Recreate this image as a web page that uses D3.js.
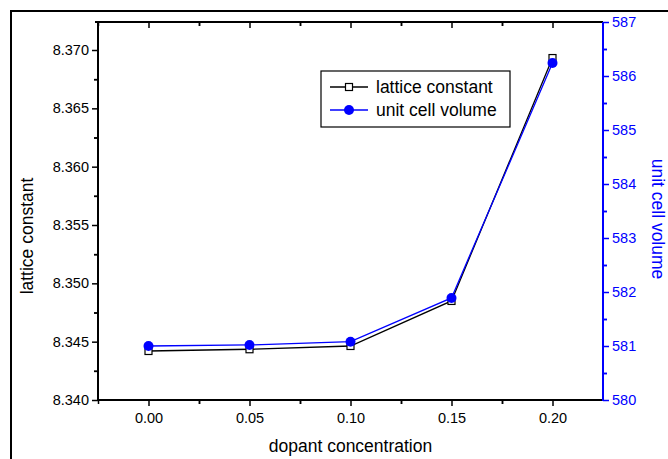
<!DOCTYPE html>
<html>
<head>
<meta charset="utf-8">
<script src="https://cdn.jsdelivr.net/npm/d3@7/dist/d3.min.js"></script>
<style>
  body { margin: 0; background: #fff; }
  svg { display: block; font-family: "Liberation Sans", Arial, sans-serif; }
</style>
</head>
<body>
<div id="chart"></div>
<script>
// data
var concentration = [0.00, 0.05, 0.10, 0.15, 0.20];
var latticeConstant = [8.3442, 8.34435, 8.34463, 8.34849, 8.36931];
var cellVolume = [581.00, 581.02, 581.08, 581.89, 586.24];
var xTicks = [0.00, 0.05, 0.10, 0.15, 0.20];
var leftTicks = [8.340, 8.345, 8.350, 8.355, 8.360, 8.365, 8.370];
var rightTicks = [580, 581, 582, 583, 584, 585, 586, 587];

var W = 668, H = 459;
var pLeft = 98, pRight = 603, pTop = 22, pBottom = 400;
var blue = "#0000ff";

var svg = d3.select("#chart").append("svg")
    .attr("width", W)
    .attr("height", H);

// outer frame
svg.append("path")
   .attr("d", "M11,459V11H668")
   .attr("fill", "none")
   .attr("stroke", "#000")
   .attr("stroke-width", 2);

// scales
var x = d3.scaleLinear().domain([-0.025, 0.225]).range([pLeft, pRight]);
var yL = d3.scaleLinear().domain([8.340, 8.3724]).range([pBottom, pTop]);
var yR = d3.scaleLinear().domain([580, 587]).range([pBottom, pTop]);

function minors(ticks, step) {
    var out = [];
    ticks.forEach(function(t) { out.push(t + step / 2); out.push(t - step / 2); });
    return out;
}
var xMinor = minors(xTicks, 0.05).filter(function(v) { return v < 0.225; });

// bottom axis
svg.append("g").attr("transform", "translate(0," + pBottom + ")")
    .call(d3.axisBottom(x).tickValues(xTicks).tickFormat(d3.format(".2f")).tickSize(6).tickPadding(7));
svg.append("g").attr("transform", "translate(0," + pBottom + ")")
    .call(d3.axisBottom(x).tickValues(xMinor).tickFormat("").tickSize(4));

// top axis (ticks inward)
svg.append("g").attr("transform", "translate(0," + pTop + ")")
    .call(d3.axisBottom(x).tickValues(xTicks).tickFormat("").tickSize(6));
svg.append("g").attr("transform", "translate(0," + pTop + ")")
    .call(d3.axisBottom(x).tickValues(xMinor).tickFormat("").tickSize(4));

// left axis
svg.append("g").attr("transform", "translate(" + pLeft + ",0)")
    .call(d3.axisLeft(yL).tickValues(leftTicks).tickFormat(d3.format(".3f")).tickSize(6).tickPadding(3));
svg.append("g").attr("transform", "translate(" + pLeft + ",0)")
    .call(d3.axisLeft(yL).tickValues(minors(leftTicks, 0.005).filter(function(v) { return v > 8.340 && v < 8.3724; })).tickFormat("").tickSize(4));

// right axis
svg.append("g").attr("class", "raxis").attr("transform", "translate(" + pRight + ",0)")
    .call(d3.axisRight(yR).tickValues(rightTicks).tickFormat(d3.format("d")).tickSize(6).tickPadding(3));
svg.append("g").attr("class", "raxis").attr("transform", "translate(" + pRight + ",0)")
    .call(d3.axisRight(yR).tickValues(minors(rightTicks, 1).filter(function(v) { return v > 580 && v < 587; })).tickFormat("").tickSize(4));

svg.selectAll(".domain").remove();
svg.selectAll(".tick line").attr("stroke-width", 1.5);
svg.selectAll(".tick text").attr("font-size", 14.5).attr("font-family", "Liberation Sans, Arial, sans-serif").attr("fill", "#000");
svg.selectAll(".raxis .tick line").attr("stroke", blue);
svg.selectAll(".raxis .tick text").attr("fill", blue);

// axis lines
svg.append("line").attr("x1", pLeft - 3).attr("x2", pRight).attr("y1", pTop).attr("y2", pTop).attr("stroke", "#000").attr("stroke-width", 2);
svg.append("line").attr("x1", pLeft).attr("x2", pRight).attr("y1", pBottom).attr("y2", pBottom).attr("stroke", "#000").attr("stroke-width", 2);
svg.append("line").attr("x1", pLeft).attr("x2", pLeft).attr("y1", pTop).attr("y2", pBottom).attr("stroke", "#000").attr("stroke-width", 2);
svg.append("line").attr("x1", pRight).attr("x2", pRight).attr("y1", pTop).attr("y2", pBottom + 1).attr("stroke", blue).attr("stroke-width", 2);

// axis titles
svg.append("text").attr("x", (pLeft + pRight) / 2).attr("y", 452)
   .attr("text-anchor", "middle").attr("font-size", 17.5).text("dopant concentration");
svg.append("text").attr("transform", "translate(33,236) rotate(-90)")
   .attr("text-anchor", "middle").attr("font-size", 17.5).text("lattice constant");
svg.append("text").attr("transform", "translate(652,219) rotate(90)")
   .attr("text-anchor", "middle").attr("font-size", 17.5).attr("fill", blue).text("unit cell volume");

// series lines
var lineL = d3.line().x(function(d, i) { return x(concentration[i]); }).y(function(d) { return yL(d); });
var lineR = d3.line().x(function(d, i) { return x(concentration[i]); }).y(function(d) { return yR(d); });

svg.append("path").datum(latticeConstant).attr("d", lineL)
   .attr("fill", "none").attr("stroke", "#000").attr("stroke-width", 1.3);
svg.append("path").datum(cellVolume).attr("d", lineR)
   .attr("fill", "none").attr("stroke", blue).attr("stroke-width", 1.3);

svg.selectAll(".sq").data(latticeConstant).enter().append("rect")
   .attr("class", "sq")
   .attr("x", function(d, i) { return x(concentration[i]) - 3.5; })
   .attr("y", function(d) { return yL(d) - 3.5; })
   .attr("width", 7).attr("height", 7)
   .attr("fill", "#fff").attr("stroke", "#000").attr("stroke-width", 1.2);

svg.selectAll(".dot").data(cellVolume).enter().append("circle")
   .attr("class", "dot")
   .attr("cx", function(d, i) { return x(concentration[i]); })
   .attr("cy", function(d) { return yR(d); })
   .attr("r", 5).attr("fill", blue);

// legend
var lg = svg.append("g").attr("transform", "translate(321,71)");
lg.append("rect").attr("width", 189).attr("height", 56)
  .attr("fill", "#fff").attr("stroke", "#000").attr("stroke-width", 1.2);
lg.append("line").attr("x1", 9).attr("x2", 47).attr("y1", 16).attr("y2", 16).attr("stroke", "#000").attr("stroke-width", 1.3);
lg.append("rect").attr("x", 24.5).attr("y", 12.5).attr("width", 7).attr("height", 7)
  .attr("fill", "#fff").attr("stroke", "#000").attr("stroke-width", 1.2);
lg.append("line").attr("x1", 9).attr("x2", 47).attr("y1", 39).attr("y2", 39).attr("stroke", blue).attr("stroke-width", 1.3);
lg.append("circle").attr("cx", 28).attr("cy", 39).attr("r", 5).attr("fill", blue);
lg.append("text").attr("x", 55).attr("y", 22).attr("font-size", 17.5).text("lattice constant");
lg.append("text").attr("x", 55).attr("y", 45).attr("font-size", 17.5).text("unit cell volume");
</script>
</body>
</html>
